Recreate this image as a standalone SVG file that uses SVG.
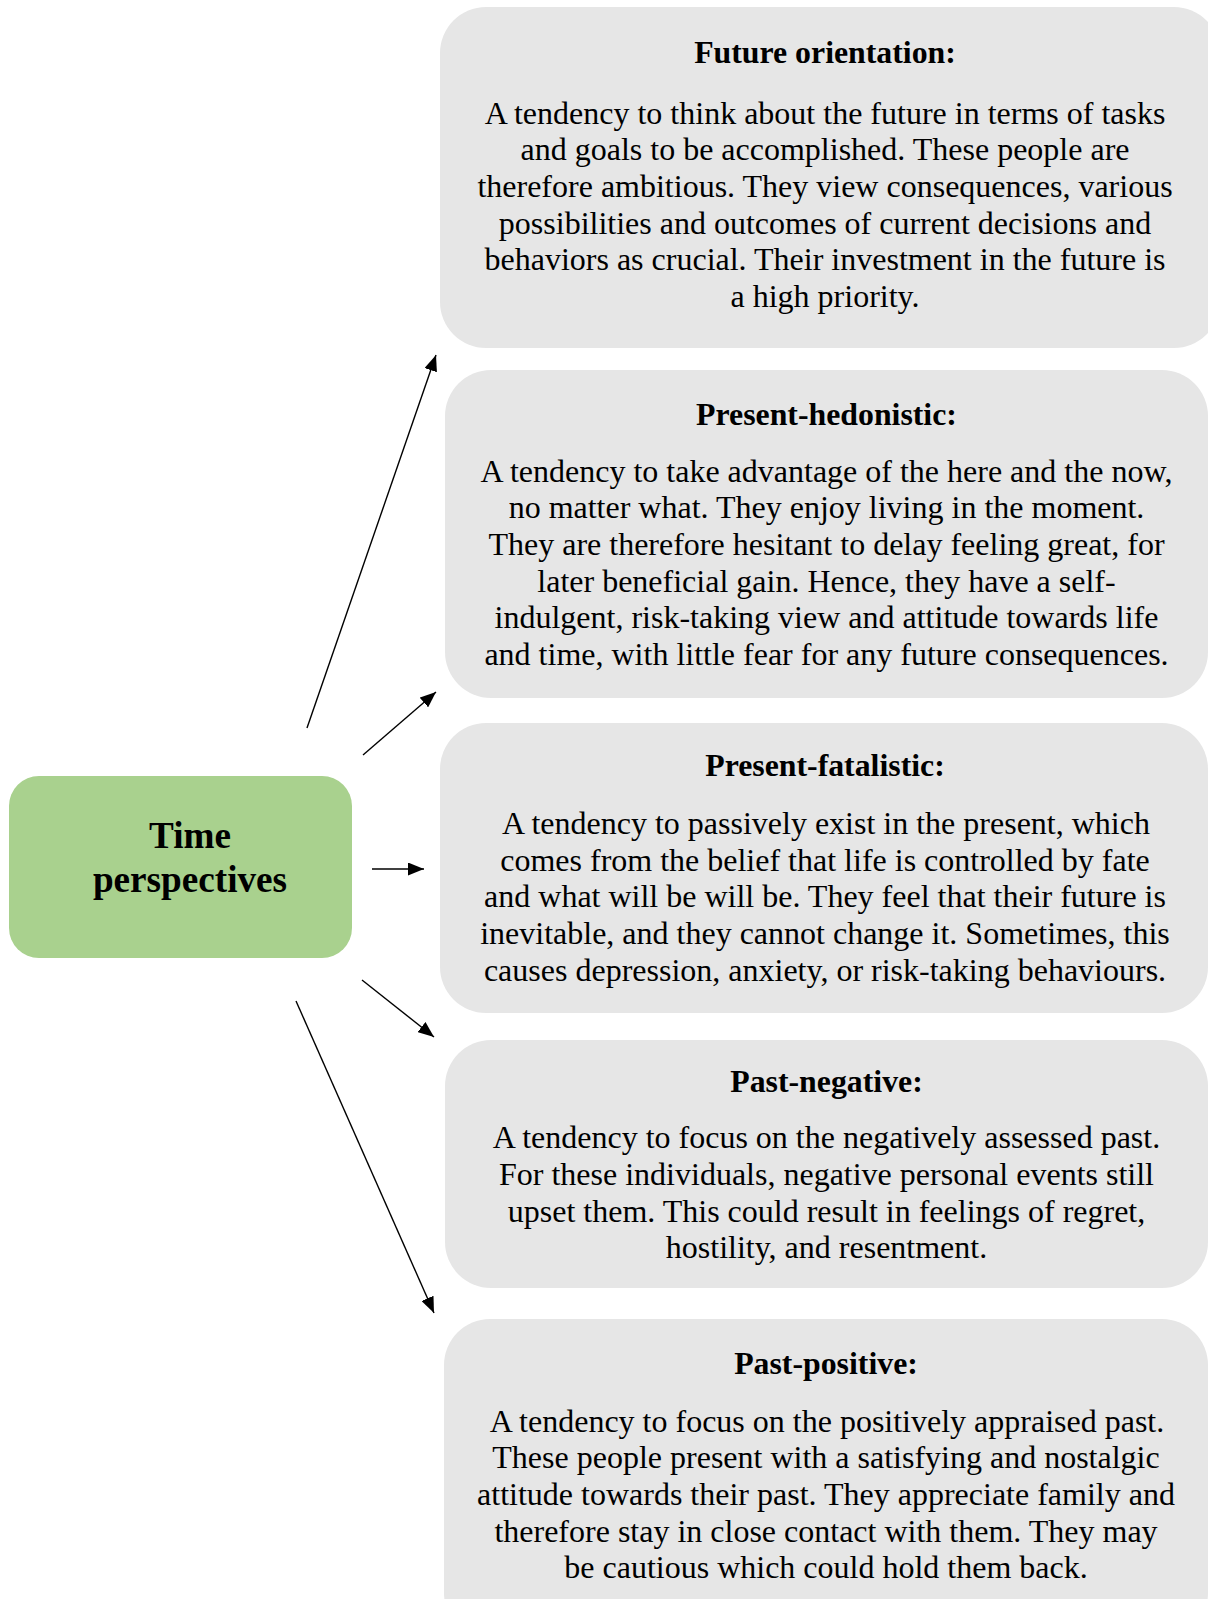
<svg xmlns="http://www.w3.org/2000/svg" width="1208" height="1599" viewBox="0 0 1208 1599">
  <style>
    .card { fill: #e6e6e6; }
    .root { fill: #a9d18e; }
    .title { font-family: "Liberation Serif", "Times New Roman", serif; font-weight: bold; font-size: 31.8px; fill: #000; text-anchor: middle; }
    .body { font-family: "Liberation Serif", "Times New Roman", serif; font-size: 32px; fill: #000; text-anchor: middle; }
    .root-label { font-family: "Liberation Serif", "Times New Roman", serif; font-weight: bold; font-size: 37.2px; fill: #000; text-anchor: middle; }
    .link { stroke: #000; stroke-width: 1.4; fill: none; marker-end: url(#head); }
  </style>
  <defs>
    <marker id="head" markerUnits="userSpaceOnUse" markerWidth="17" markerHeight="13" refX="16" refY="6.5" orient="auto">
      <path d="M0,0 L16,6.5 L0,13 Z" fill="#000"/>
    </marker>
  </defs>
  <rect width="1208" height="1599" fill="#fff"/>

  <!-- central node -->
  <g id="time-perspectives">
    <rect class="root" x="9" y="776" width="343" height="182" rx="30" ry="30"/>
    <text class="root-label" x="190" y="848">Time</text>
    <text class="root-label" x="190" y="892">perspectives</text>
  </g>

  <!-- connectors -->
  <g id="connectors">
    <line class="link" x1="307" y1="728" x2="436" y2="355"/>
    <line class="link" x1="363" y1="755" x2="436" y2="692"/>
    <line class="link" x1="372" y1="869" x2="424" y2="869"/>
    <line class="link" x1="362" y1="980" x2="434" y2="1037"/>
    <line class="link" x1="296" y1="1001" x2="434" y2="1313"/>
  </g>

  <g id="future-orientation">
    <rect class="card" x="440" y="7" width="780" height="341" rx="46" ry="46"/>
    <text class="title" x="825" y="63.3">Future orientation:</text>
    <text class="body" x="825" y="123.5">A tendency to think about the future in terms of tasks</text>
    <text class="body" x="825" y="160.2">and goals to be accomplished. These people are</text>
    <text class="body" x="825" y="196.9">therefore ambitious. They view consequences, various</text>
    <text class="body" x="825" y="233.6">possibilities and outcomes of current decisions and</text>
    <text class="body" x="825" y="270.3">behaviors as crucial. Their investment in the future is</text>
    <text class="body" x="825" y="307">a high priority.</text>
  </g>

  <g id="present-hedonistic">
    <rect class="card" x="445" y="370" width="763" height="328" rx="46" ry="46"/>
    <text class="title" x="826.5" y="425">Present-hedonistic:</text>
    <text class="body" x="826.5" y="481.7">A tendency to take advantage of the here and the now,</text>
    <text class="body" x="826.5" y="518.3">no matter what. They enjoy living in the moment.</text>
    <text class="body" x="826.5" y="555">They are therefore hesitant to delay feeling great, for</text>
    <text class="body" x="826.5" y="591.7">later beneficial gain. Hence, they have a self-</text>
    <text class="body" x="826.5" y="628.3">indulgent, risk-taking view and attitude towards life</text>
    <text class="body" x="826.5" y="665">and time, with little fear for any future consequences.</text>
  </g>

  <g id="present-fatalistic">
    <rect class="card" x="440" y="723" width="768" height="290" rx="46" ry="46"/>
    <text class="title" x="825" y="776">Present-fatalistic:</text>
    <text class="body" x="826" y="834">A tendency to passively exist in the present, which</text>
    <text class="body" x="825" y="870.7">comes from the belief that life is controlled by fate</text>
    <text class="body" x="825" y="907.3">and what will be will be. They feel that their future is</text>
    <text class="body" x="825" y="944">inevitable, and they cannot change it. Sometimes, this</text>
    <text class="body" x="825" y="980.7">causes depression, anxiety, or risk-taking behaviours.</text>
  </g>

  <g id="past-negative">
    <rect class="card" x="445" y="1040" width="763" height="248" rx="46" ry="46"/>
    <text class="title" x="826.5" y="1091.7">Past-negative:</text>
    <text class="body" x="826.5" y="1148.3">A tendency to focus on the negatively assessed past.</text>
    <text class="body" x="826.5" y="1185">For these individuals, negative personal events still</text>
    <text class="body" x="826.5" y="1221.7">upset them. This could result in feelings of regret,</text>
    <text class="body" x="826.5" y="1258.3">hostility, and resentment.</text>
  </g>

  <g id="past-positive">
    <rect class="card" x="444" y="1319" width="764" height="320" rx="46" ry="46"/>
    <text class="title" x="826" y="1374">Past-positive:</text>
    <text class="body" x="827" y="1431.7">A tendency to focus on the positively appraised past.</text>
    <text class="body" x="826" y="1468.3">These people present with a satisfying and nostalgic</text>
    <text class="body" x="826" y="1505">attitude towards their past. They appreciate family and</text>
    <text class="body" x="826" y="1541.7">therefore stay in close contact with them. They may</text>
    <text class="body" x="826" y="1578.3">be cautious which could hold them back.</text>
  </g>
</svg>
